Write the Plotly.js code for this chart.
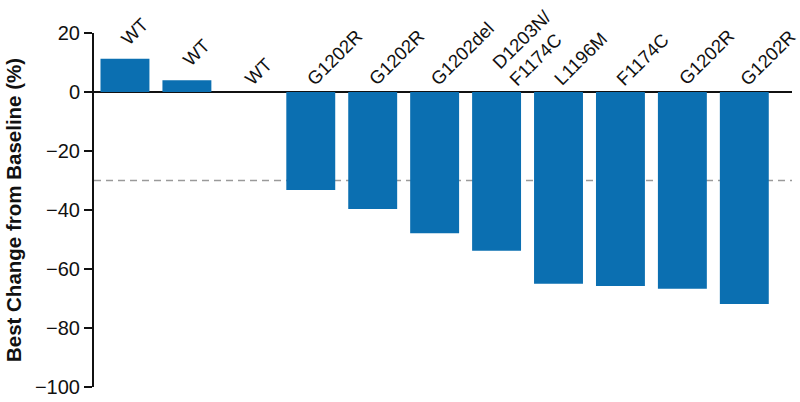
<!DOCTYPE html>
<html>
<head>
<meta charset="utf-8">
<script src="https://cdn.plot.ly/plotly-3.0.1.min.js"></script>
<style>
  body { margin: 0; background: #fff; }
  #chart { width: 800px; height: 402px; }
</style>
</head>
<body>
<div id="chart"></div>
<script>
// Best change from baseline per patient, with mutation labels
const mutations = ['WT', 'WT', 'WT', 'G1202R', 'G1202R', 'G1202del', 'D1203N/<br>F1174C',
    'L1196M', 'F1174C', 'G1202R', 'G1202R'];
const bestChange = [11.3, 4.0, 0, -33.2, -39.7, -47.9, -53.8, -65.0, -65.8, -66.7, -71.9];
const yTicks = [20, 0, -20, -40, -60, -80, -100];
const threshold = -30;

const positions = mutations.map((m, i) => i);

const data = [{
    type: 'bar',
    x: positions,
    y: bestChange,
    marker: { color: '#0b6fb1' },
    hoverinfo: 'y'
}];

// Rotated mutation labels above each bar
const annotations = mutations.map((label, i) => ({
    x: i,
    y: Math.max(bestChange[i], 0),
    xref: 'x',
    yref: 'y',
    text: label,
    showarrow: false,
    textangle: -45,
    align: 'left',
    xanchor: 'left',
    yanchor: 'bottom',
    xshift: -11,
    yshift: bestChange[i] > 0 ? 7 : 0,
    font: { family: 'Liberation Sans, Arial, sans-serif', size: 18.5, color: '#111' }
}));

const layout = {
    width: 800,
    height: 402,
    margin: { l: 94, r: 8, t: 33, b: 15 },
    paper_bgcolor: '#fff',
    plot_bgcolor: '#fff',
    bargap: 0.21,
    showlegend: false,
    font: { family: 'Liberation Sans, Arial, sans-serif', color: '#111' },
    xaxis: {
        visible: false,
        range: [-0.5, 10.77],
        fixedrange: true
    },
    yaxis: {
        range: [-100, 20],
        tickvals: yTicks,
        ticks: 'outside',
        ticklen: 8,
        tickwidth: 2,
        tickcolor: '#111',
        tickfont: { size: 20, color: '#111' },
        showline: true,
        linecolor: '#111',
        linewidth: 2,
        showgrid: false,
        zeroline: true,
        zerolinecolor: '#111',
        zerolinewidth: 2,
        title: {
            text: '<b>Best Change from Baseline (%)</b>',
            font: { size: 20.5, color: '#111' },
            standoff: 8
        }
    },
    shapes: [{
        type: 'line',
        xref: 'paper',
        yref: 'y',
        x0: 0,
        x1: 1,
        y0: threshold,
        y1: threshold,
        line: { color: '#9a9a9a', width: 1.5, dash: '7px,5px' },
        layer: 'below'
    }],
    annotations: annotations
};

Plotly.newPlot('chart', data, layout, { displayModeBar: false, staticPlot: true });
</script>
</body>
</html>
